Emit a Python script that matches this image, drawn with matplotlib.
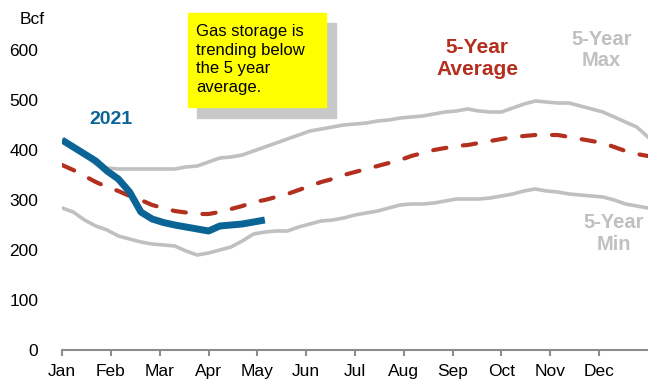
import numpy as np
import matplotlib.pyplot as plt
from matplotlib.patches import Rectangle

plt.rcParams['font.family'] = ['Liberation Sans', 'DejaVu Sans']

# Weekly working gas in storage, Bcf
months = ['Jan', 'Feb', 'Mar', 'Apr', 'May', 'Jun', 'Jul', 'Aug', 'Sep', 'Oct', 'Nov', 'Dec']
max_5yr = [420, 406, 392, 372, 364, 362, 362, 362, 362, 362, 362, 366, 368, 376, 384, 386, 390, 398,
           406, 414, 422, 430, 438, 442, 446, 450, 452, 454, 458, 460, 464, 466, 468, 472, 476, 478,
           482, 478, 476, 476, 484, 492, 498, 496, 494, 494, 488, 482, 476, 466, 456, 446, 426]
avg_5yr = [370, 360, 348, 336, 326, 318, 308, 300, 290, 284, 278, 275, 272, 272, 276, 282, 288, 296,
           300, 306, 312, 320, 328, 336, 342, 350, 356, 362, 368, 374, 380, 388, 394, 400, 404, 408,
           410, 414, 418, 422, 426, 428, 430, 430, 430, 426, 422, 418, 414, 406, 398, 392, 388]
min_5yr = [284, 276, 260, 248, 240, 228, 222, 216, 212, 210, 208, 198, 190, 194, 200, 206, 218, 232,
           236, 238, 238, 246, 252, 258, 260, 264, 270, 274, 278, 284, 290, 292, 292, 294, 298, 302,
           302, 302, 304, 308, 312, 318, 322, 318, 316, 312, 310, 308, 306, 300, 292, 288, 284]
y2021 = [420, 406, 392, 378, 358, 342, 316, 276, 262, 255, 250, 246, 242, 238, 248, 250, 252, 256, 260]

# week number -> position on a month scale (Jan = 0)
weeks = np.arange(len(max_5yr)) * 12 / 52
weeks21 = weeks[:len(y2021)]

blue = '#0b6496'
red = '#b3301f'
grey = '#c0c0c0'

fig = plt.figure(figsize=(6.48, 3.82), dpi=100)
ax = fig.add_axes([62 / 648, 32 / 382, 586 / 648, 350 / 382])

ax.plot(weeks, max_5yr, color=grey, lw=2.6)
ax.plot(weeks, min_5yr, color=grey, lw=2.6)
ax.plot(weeks, avg_5yr, color=red, lw=3.0, dashes=(3.2, 4.0), dash_capstyle='round')
ax.plot(weeks21, y2021, color=blue, lw=5.0, solid_capstyle='butt')

ax.set_xlim(0, 12)
ax.set_ylim(0, 700)
ax.set_yticks(range(0, 601, 100))
ax.set_xticks(range(12))
ax.set_xticklabels(months)

for s in ['top', 'right', 'left']:
    ax.spines[s].set_visible(False)
ax.spines['bottom'].set_color('#8c8c8c')
ax.spines['bottom'].set_linewidth(1.5)
ax.tick_params(axis='y', length=0, pad=17, labelsize=12.5)
ax.tick_params(axis='x', length=4, width=1.5, color='#8c8c8c', pad=6, labelsize=12.5)

fig.text(45 / 648, 1 - 19 / 382, 'Bcf', ha='right', va='center', fontsize=12.5)

# series labels
ax.text(1.0, 460, '2021', color=blue, fontsize=14, fontweight='bold', ha='center', va='center')
ax.text(8.5, 583, '5-Year\nAverage', color=red, fontsize=15, fontweight='bold',
        ha='center', va='center', linespacing=1.15)
ax.text(11.05, 600, '5-Year\nMax', color=grey, fontsize=14.5, fontweight='bold',
        ha='center', va='center', linespacing=1.15)
ax.text(11.3, 233, '5-Year\nMin', color=grey, fontsize=14.5, fontweight='bold',
        ha='center', va='center', linespacing=1.15)

# callout box with drop shadow
fig.patches.append(Rectangle((197 / 648, 1 - 118 / 382), 139 / 648, 95 / 382,
                             transform=fig.transFigure, color='#c8c8c8', zorder=0))
fig.patches.append(Rectangle((188 / 648, 1 - 107 / 382), 138 / 648, 94 / 382,
                             transform=fig.transFigure, color='#ffff00', zorder=1))
fig.text(196 / 648, 1 - 24 / 382, 'Gas storage is\ntrending below\nthe 5 year\naverage.',
         ha='left', va='top', fontsize=12, linespacing=1.3, zorder=2)

fig.savefig('out.png', dpi=100)
